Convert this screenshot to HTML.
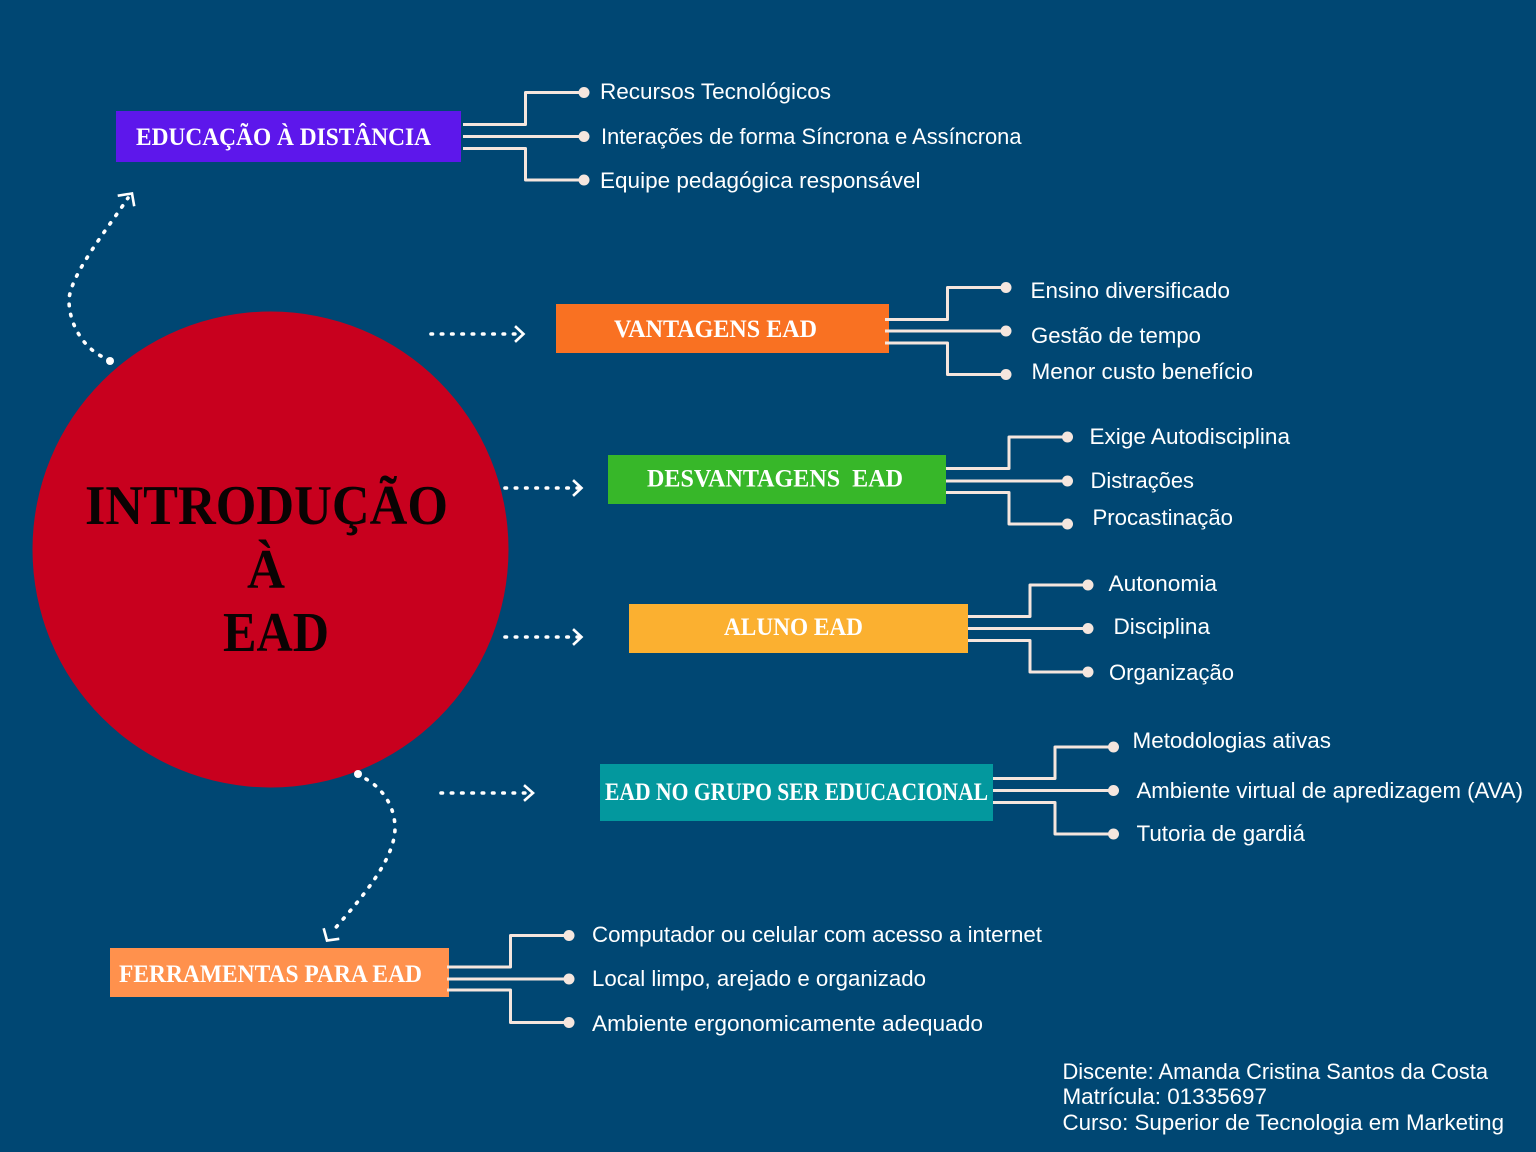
<!DOCTYPE html>
<html lang="pt-BR">
<head>
<meta charset="utf-8">
<title>Introdução à EAD</title>
<style>
html,body{margin:0;padding:0;background:#004773;}
svg{display:block;}
.conn{fill:none;stroke:#f5e6de;stroke-width:3;stroke-linejoin:round;}
.dot{fill:#f5e6de;}
.dash{fill:none;stroke:#fff;stroke-width:3.6;stroke-linecap:round;stroke-dasharray:1.5 8.8;}
.chev{fill:none;stroke:#fff;stroke-width:2.6;stroke-linecap:square;}
.t{font-family:"Liberation Sans",sans-serif;font-size:22px;fill:#fff;}
.b{font-family:"Liberation Serif",serif;font-weight:bold;font-size:25px;fill:#fff;}
.h{font-family:"Liberation Serif",serif;font-weight:bold;font-size:56px;fill:#0a0303;}
</style>
</head>
<body>
<svg xmlns="http://www.w3.org/2000/svg" width="1536" height="1152" viewBox="0 0 1536 1152">
<rect width="1536" height="1152" fill="#004773"/>
<circle cx="270.5" cy="549.5" r="238" fill="#c8001e"/>

<text class="h" x="85" y="524" textLength="363" lengthAdjust="spacingAndGlyphs">INTRODUÇÃO</text>
<text class="h" x="247" y="588" textLength="38" lengthAdjust="spacingAndGlyphs">À</text>
<text class="h" x="223" y="651" textLength="106" lengthAdjust="spacingAndGlyphs">EAD</text>

<rect x="116" y="111" width="345" height="51" fill="#5d17eb"/>
<rect x="556" y="304" width="333" height="49" fill="#f97122"/>
<rect x="608" y="455" width="338" height="49" fill="#37b729"/>
<rect x="629" y="604" width="339" height="49" fill="#fbb030"/>
<rect x="600" y="764" width="393" height="57" fill="#03989e"/>
<rect x="110" y="948" width="339" height="49" fill="#ff914d"/>

<text class="b" x="136" y="145" textLength="295" lengthAdjust="spacingAndGlyphs">EDUCAÇÃO À DISTÂNCIA</text>
<text class="b" x="614" y="337" textLength="203" lengthAdjust="spacingAndGlyphs">VANTAGENS EAD</text>
<text class="b" x="647" y="486.500" textLength="256" lengthAdjust="spacingAndGlyphs" xml:space="preserve">DESVANTAGENS  EAD</text>
<text class="b" x="724" y="635" textLength="139" lengthAdjust="spacingAndGlyphs">ALUNO EAD</text>
<text class="b" x="605" y="800" textLength="383" lengthAdjust="spacingAndGlyphs">EAD NO GRUPO SER EDUCACIONAL</text>
<text class="b" x="119" y="982" textLength="303" lengthAdjust="spacingAndGlyphs">FERRAMENTAS PARA EAD</text>

<g class="conn">
<path d="M463 124.500H525.500V92.500H584M463 136.500H584M463 148.500H525.500V180H584"/>
<path d="M885 319.500H947.500V287.500H1005M885 331H1005M885 343H947.500V374.500H1005"/>
<path d="M946 468.500H1009V437H1067M946 481H1067M946 492.500H1009V524H1067"/>
<path d="M968 616.500H1030V585H1088M968 628.500H1088M968 640.500H1030V672H1088"/>
<path d="M993 778.500H1055V747H1113M993 790.500H1113M993 802.500H1055V834H1113"/>
<path d="M447 967H510.500V935.500H569M447 979H569M447 990H510.500V1022.500H569"/>
</g>

<g class="dot">
<circle cx="584" cy="92.500" r="5.500"/><circle cx="584" cy="136.500" r="5.500"/><circle cx="584" cy="180" r="5.500"/>
<circle cx="1006" cy="287.500" r="5.500"/><circle cx="1006" cy="331" r="5.500"/><circle cx="1006" cy="374.500" r="5.500"/>
<circle cx="1067.500" cy="437" r="5.500"/><circle cx="1067.500" cy="481" r="5.500"/><circle cx="1067.500" cy="524" r="5.500"/>
<circle cx="1088" cy="585" r="5.500"/><circle cx="1088" cy="628.500" r="5.500"/><circle cx="1088" cy="672" r="5.500"/>
<circle cx="1113.500" cy="747" r="5.500"/><circle cx="1113.500" cy="790.500" r="5.500"/><circle cx="1113.500" cy="834" r="5.500"/>
<circle cx="569" cy="935.500" r="5.500"/><circle cx="569" cy="979" r="5.500"/><circle cx="569" cy="1022.500" r="5.500"/>
</g>

<path class="dash" d="M431 334H521"/>
<path class="chev" d="M516 327L523.500 334L516 341"/>
<path class="dash" d="M505 488H579"/>
<path class="chev" d="M574 481L581.500 488L574 495"/>
<path class="dash" d="M505 637H579"/>
<path class="chev" d="M574 630L581.500 637L574 644"/>
<path class="dash" d="M441 793H531"/>
<path class="chev" d="M525 786L533 793L525 800"/>

<circle cx="110" cy="361" r="4" fill="#fff"/>
<path class="dash" d="M101 356C84 347 69 325 69 300C70 275 108 228 128 198"/>
<path class="chev" d="M119 195.500L132 193.500L134 205"/>
<circle cx="358" cy="774" r="4" fill="#fff"/>
<path class="dash" d="M366 779C382 788 395 806 395 828C395 860 360 900 331 933"/>
<path class="chev" d="M324 929.500L327 940.500L338 939"/>

<text class="t" x="600" y="99" textLength="231" lengthAdjust="spacingAndGlyphs">Recursos Tecnológicos</text>
<text class="t" x="601" y="144" textLength="420.500" lengthAdjust="spacingAndGlyphs">Interações de forma Síncrona e Assíncrona</text>
<text class="t" x="600" y="188" textLength="320.500" lengthAdjust="spacingAndGlyphs">Equipe pedagógica responsável</text>

<text class="t" x="1030.500" y="298" textLength="199.500" lengthAdjust="spacingAndGlyphs">Ensino diversificado</text>
<text class="t" x="1031" y="343" textLength="170" lengthAdjust="spacingAndGlyphs">Gestão de tempo</text>
<text class="t" x="1031.500" y="379" textLength="221.500" lengthAdjust="spacingAndGlyphs">Menor custo benefício</text>

<text class="t" x="1089.500" y="444" textLength="200.500" lengthAdjust="spacingAndGlyphs">Exige Autodisciplina</text>
<text class="t" x="1090.500" y="488" textLength="103.500" lengthAdjust="spacingAndGlyphs">Distrações</text>
<text class="t" x="1092.500" y="525" textLength="140.500" lengthAdjust="spacingAndGlyphs">Procastinação</text>

<text class="t" x="1108.500" y="591" textLength="108.500" lengthAdjust="spacingAndGlyphs">Autonomia</text>
<text class="t" x="1113.500" y="634" textLength="96.500" lengthAdjust="spacingAndGlyphs">Disciplina</text>
<text class="t" x="1109" y="680" textLength="125" lengthAdjust="spacingAndGlyphs">Organização</text>

<text class="t" x="1132.500" y="748" textLength="198.500" lengthAdjust="spacingAndGlyphs">Metodologias ativas</text>
<text class="t" x="1136.500" y="798" textLength="386.500" lengthAdjust="spacingAndGlyphs">Ambiente virtual de apredizagem (AVA)</text>
<text class="t" x="1136.500" y="841" textLength="168.500" lengthAdjust="spacingAndGlyphs">Tutoria de gardiá</text>

<text class="t" x="592" y="942" textLength="450" lengthAdjust="spacingAndGlyphs">Computador ou celular com acesso a internet</text>
<text class="t" x="592" y="986" textLength="334" lengthAdjust="spacingAndGlyphs">Local limpo, arejado e organizado</text>
<text class="t" x="592" y="1031" textLength="391" lengthAdjust="spacingAndGlyphs">Ambiente ergonomicamente adequado</text>

<text class="t" x="1062.500" y="1079" textLength="425.500" lengthAdjust="spacingAndGlyphs">Discente: Amanda Cristina Santos da Costa</text>
<text class="t" x="1062.500" y="1104" textLength="204.500" lengthAdjust="spacingAndGlyphs">Matrícula: 01335697</text>
<text class="t" x="1062.500" y="1130" textLength="441.500" lengthAdjust="spacingAndGlyphs">Curso: Superior de Tecnologia em Marketing</text>
</svg>
</body>
</html>
